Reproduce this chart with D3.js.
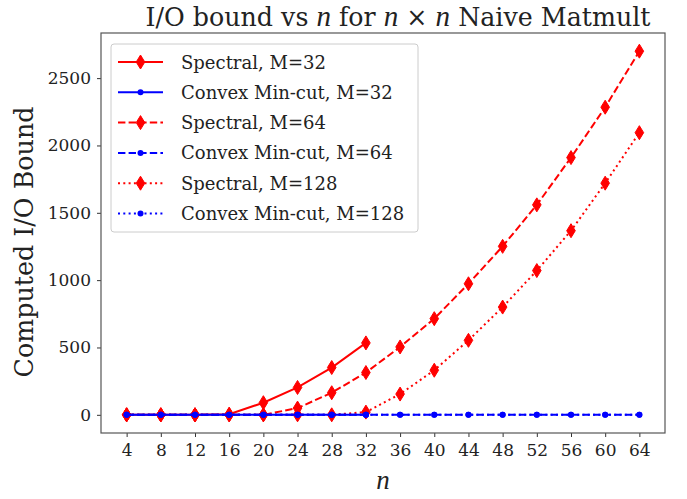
<!DOCTYPE html>
<html>
<head>
<meta charset="utf-8">
<script src="https://cdn.jsdelivr.net/npm/d3@7"></script>
<style>
  body { margin: 0; background: #fff; }
  text { font-family: 'DejaVu Serif', 'Liberation Serif', serif; fill: #222; }
  .it { font-family: 'Liberation Serif', serif; font-style: italic; }
</style>
</head>
<body>
<div id="chart"></div>
<script>
const nValues = [4, 8, 12, 16, 20, 24, 28, 32, 36, 40, 44, 48, 52, 56, 60, 64];
const yTicks = [0, 500, 1000, 1500, 2000, 2500];

const spectral32 = [0, 0, 0, 5, 90, 203, 351, 534];
const spectral64 = [0, 0, 0, 0, 0, 50, 164, 314, 504, 714, 973, 1251, 1559, 1910, 2284, 2700];
const spectral128 = [0, 0, 0, 0, 0, 0, 0, 20, 154, 331, 553, 800, 1071, 1367, 1720, 2095];
const convex32 = [0, 0, 0, 0, 0, 0, 0, 0];
const convex64 = [0, 0, 0, 0, 0, 0, 0, 0, 0, 0, 0, 0, 0, 0, 0, 0];
const convex128 = [0, 0, 0, 0, 0, 0, 0, 0, 0, 0, 0, 0, 0, 0, 0, 0];

const seriesNames = ['Spectral, M=32', 'Convex Min-cut, M=32', 'Spectral, M=64',
  'Convex Min-cut, M=64', 'Spectral, M=128', 'Convex Min-cut, M=128'];
const seriesValues = [spectral32, convex32, spectral64, convex64, spectral128, convex128];

const W = 687, H = 499;
const mLeft = 101, mTop = 33, mRight = 665, mBottom = 433;

const svg = d3.select('#chart').append('svg').attr('width', W).attr('height', H);

const x = d3.scaleLinear().domain([1, 67]).range([mLeft, mRight]);
const y = d3.scaleLinear().domain([-135, 2835]).range([mBottom, mTop]);

// shrink/grow a text's font size so it spans roughly the wanted width
function fitWidth(sel, size, want) {
  sel.attr('font-size', size + 'px');
  const got = sel.node().getComputedTextLength();
  const s = size * want / got;
  sel.attr('font-size', s.toFixed(2) + 'px');
  return s;
}

const dashFor = i => i < 2 ? null : (i < 4 ? '7.4,3.2' : '2,3.3');
const series = seriesNames.map((name, i) => ({
  name,
  color: i % 2 === 0 ? '#ff0000' : '#0000ff',
  diamond: i % 2 === 0,
  dash: dashFor(i),
  pts: seriesValues[i].map((v, j) => ({ n: nValues[j], v }))
}));

// spectral first, then convex on top
const drawOrder = [0, 2, 4, 1, 3, 5];
const line = d3.line().x(d => x(d.n)).y(d => y(d.v));
const diamondPath = 'M0,-7L4.3,0L0,7L-4.3,0Z';

const plot = svg.append('g');
drawOrder.forEach(i => {
  const s = series[i];
  plot.append('path').datum(s.pts).attr('d', line)
    .attr('fill', 'none').attr('stroke', s.color).attr('stroke-width', 2)
    .attr('stroke-dasharray', s.dash);
  if (s.diamond) {
    plot.selectAll(null).data(s.pts).join('path')
      .attr('transform', d => `translate(${x(d.n)},${y(d.v)})`)
      .attr('d', diamondPath).attr('fill', s.color).attr('stroke', s.color).attr('stroke-width', 1);
  } else {
    plot.selectAll(null).data(s.pts).join('circle')
      .attr('cx', d => x(d.n)).attr('cy', d => y(d.v)).attr('r', 3)
      .attr('fill', s.color);
  }
});

// axes
const xAxis = svg.append('g').attr('transform', `translate(0,${mBottom})`)
  .call(d3.axisBottom(x).tickValues(nValues).tickFormat(d3.format('d')).tickSize(4).tickPadding(7));
const yAxis = svg.append('g').attr('transform', `translate(${mLeft},0)`)
  .call(d3.axisLeft(y).tickValues(yTicks).tickFormat(d3.format('d')).tickSize(4).tickPadding(6));
[xAxis, yAxis].forEach(g => {
  g.select('.domain').remove();
  g.selectAll('.tick line').attr('stroke', '#333');
  g.selectAll('.tick text').attr('font-size', '17px').attr('fill', '#222')
    .attr('font-family', "'DejaVu Serif', serif");
});

svg.append('rect').attr('x', mLeft).attr('y', mTop)
  .attr('width', mRight - mLeft).attr('height', mBottom - mTop)
  .attr('fill', 'none').attr('stroke', '#555').attr('stroke-width', 1.2);

// labels
const title = svg.append('text').attr('x', 398).attr('y', 26).attr('text-anchor', 'middle');
title.append('tspan').text('I/O bound vs ');
title.append('tspan').attr('class', 'it').attr('font-size', '1.15em').text('n');
title.append('tspan').text(' for ');
title.append('tspan').attr('class', 'it').attr('font-size', '1.15em').text('n');
title.append('tspan').text(' × ');
title.append('tspan').attr('class', 'it').attr('font-size', '1.15em').text('n');
title.append('tspan').text(' Naive Matmult');
fitWidth(title, 24, 505);

svg.append('text').attr('class', 'it').attr('x', (mLeft + mRight) / 2).attr('y', 489)
  .attr('text-anchor', 'middle').attr('font-size', '27px').text('n');

const ylab = svg.append('text').attr('transform', 'translate(33,242) rotate(-90)')
  .attr('text-anchor', 'middle').text('Computed I/O Bound');
fitWidth(ylab, 22, 271);

// legend
const lg = svg.append('g').attr('transform', 'translate(111,44)');
lg.append('rect').attr('width', 307).attr('height', 188).attr('rx', 3)
  .attr('fill', '#fff').attr('fill-opacity', 0.85).attr('stroke', '#ccc').attr('stroke-width', 1);
let legendSize = null;
series.forEach((s, i) => {
  const ry = 18 + i * 30.3;
  const row = lg.append('g').attr('transform', `translate(0,${ry})`);
  row.append('line').attr('x1', 7).attr('x2', 52).attr('y1', 0).attr('y2', 0)
    .attr('stroke', s.color).attr('stroke-width', 2).attr('stroke-dasharray', s.dash);
  if (s.diamond) {
    row.append('path').attr('transform', 'translate(29.5,0)').attr('d', diamondPath)
      .attr('fill', s.color).attr('stroke', s.color);
  } else {
    row.append('circle').attr('cx', 29.5).attr('cy', 0).attr('r', 3).attr('fill', s.color);
  }
  const t = row.append('text').attr('x', 70).attr('y', 6.5).text(s.name);
  if (legendSize === null) legendSize = fitWidth(t, 18, 145);
  else t.attr('font-size', legendSize.toFixed(2) + 'px');
});
</script>
</body>
</html>
